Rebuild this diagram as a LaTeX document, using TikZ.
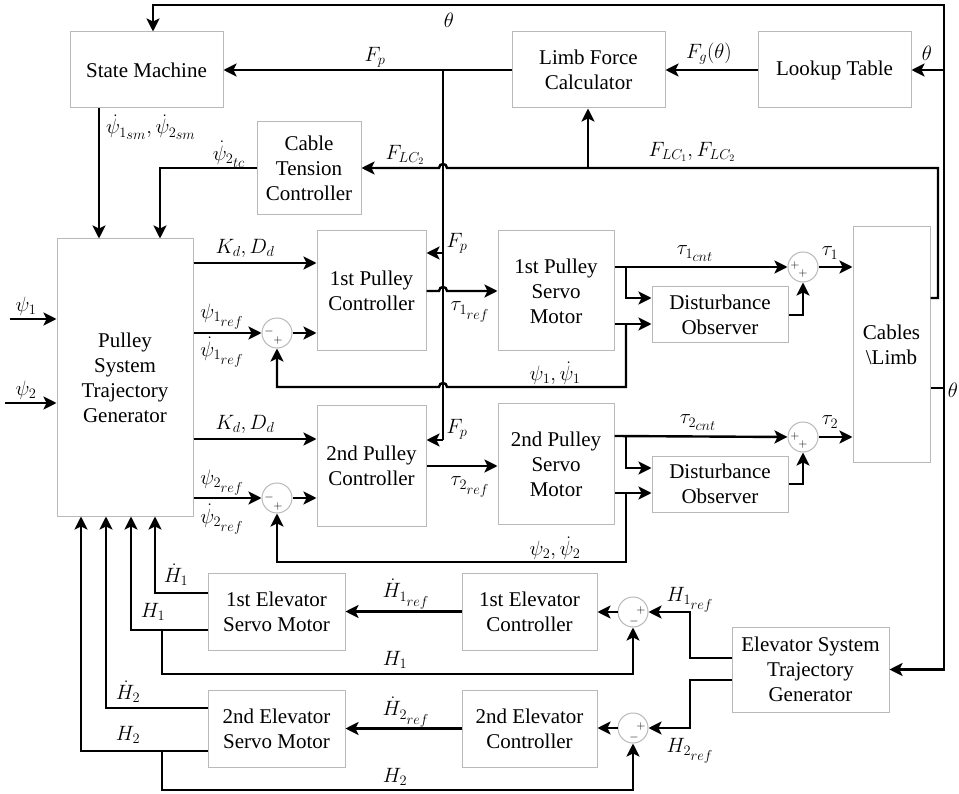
\documentclass[tikz,border=0pt]{standalone}
\usepackage{fontspec}
\setmainfont{Liberation Serif}
\usetikzlibrary{arrows.meta,calc}
\begin{document}
\begin{tikzpicture}[x=1pt,y=-1pt,
  blk/.style={draw=gray!55, line width=1pt, fill=white, align=center, inner sep=0pt, font=\fontsize{21}{25}\selectfont},
  sumc/.style={circle, draw=gray!55, line width=1pt, minimum size=30pt, inner sep=0pt},
  conn/.style={line width=2.4pt},
  arr/.style={conn, -{Stealth[length=13pt,width=13pt,inset=3pt]}},
  lbl/.style={font=\fontsize{20}{24}\selectfont, inner sep=0pt},
  sgn/.style={font=\fontsize{13}{13}\selectfont, inner sep=0pt}]
\useasboundingbox (0,0) rectangle (959,794);

% ---------- blocks ----------
\node[blk, minimum width=153pt, minimum height=76pt] (sm) at (146.5,70) {State Machine};
\node[blk, minimum width=153pt, minimum height=76pt] (lfc) at (588.5,70) {Limb Force\\Calculator};
\node[blk, minimum width=153pt, minimum height=76pt] (lut) at (834.5,70) {Lookup Table};
\node[blk, minimum width=104pt, minimum height=93pt] (ctc) at (309,168) {Cable\\Tension\\Controller};
\node[blk, minimum width=136pt, minimum height=277pt] (pstg) at (125,377.5) {Pulley\\System\\Trajectory\\Generator};
\node[blk, minimum width=109pt, minimum height=120pt] (pc1) at (371.5,291) {1st Pulley\\Controller};
\node[blk, minimum width=116pt, minimum height=120pt] (psm1) at (556,291) {1st Pulley\\Servo\\Motor};
\node[blk, minimum width=136pt, minimum height=56pt] (do1) at (720,315) {Disturbance\\Observer};
\node[blk, minimum width=109pt, minimum height=121pt] (pc2) at (371.5,466) {2nd Pulley\\Controller};
\node[blk, minimum width=116pt, minimum height=121pt] (psm2) at (556,464) {2nd Pulley\\Servo\\Motor};
\node[blk, minimum width=136pt, minimum height=56pt] (do2) at (720,484) {Disturbance\\Observer};
\node[blk, minimum width=77pt, minimum height=235pt] (cbl) at (891.5,344.5) {Cables\\\textbackslash Limb};
\node[blk, minimum width=137pt, minimum height=77pt] (esm1) at (276.5,611.5) {1st Elevator\\Servo Motor};
\node[blk, minimum width=135pt, minimum height=77pt] (ec1) at (529.5,611.5) {1st Elevator\\Controller};
\node[blk, minimum width=137pt, minimum height=77pt] (esm2) at (276.5,728.5) {2nd Elevator\\Servo Motor};
\node[blk, minimum width=135pt, minimum height=77pt] (ec2) at (529.5,728.5) {2nd Elevator\\Controller};
\node[blk, minimum width=157pt, minimum height=85pt] (estg) at (810.5,669.5) {Elevator System\\Trajectory\\Generator};

% ---------- summing junctions ----------
\node[sumc] (s1) at (277,333) {};
\node[sumc] (s2) at (277,498) {};
\node[sumc] (t1) at (803,267) {};
\node[sumc] (t2) at (803,437) {};
\node[sumc] (e1) at (633,612) {};
\node[sumc] (e2) at (633,728) {};
\foreach \s in {s1,s2}{
  \node[sgn] at ($(\s)+(-8,-1)$) {$-$};
  \node[sgn] at ($(\s)+(1,8)$) {$+$};}
\foreach \s in {t1,t2}{
  \node[sgn] at ($(\s)+(-8,-1)$) {$+$};
  \node[sgn] at ($(\s)+(0,7)$) {$+$};}
\foreach \s in {e1,e2}{
  \node[sgn] at ($(\s)+(8,-2)$) {$+$};
  \node[sgn] at ($(\s)+(1,9)$) {$-$};}

% ---------- helper coordinates ----------
\coordinate (thj) at (944,388);
\coordinate (rtop) at (944,5);
\coordinate (fpj) at (443,70);
\coordinate (fp1) at (443,253);
\coordinate (fp2) at (443,440);
\coordinate (lcr) at (938,168);
\coordinate (lcb) at (588,168);
\coordinate (br1) at (626,267);
\coordinate (fb1) at (626,324);
\coordinate (br2) at (626,436);
\coordinate (fb2) at (626,493);
\coordinate (in1) at (10,319);
\coordinate (in2) at (5,403);
\coordinate (h1b) at (162,630);
\coordinate (h2b) at (162,751);

% ---------- theta feedback ----------
\draw[conn] (cbl.east |- thj) -- (thj);
\draw[arr] (thj) |- (rtop) -| ([xshift=6.5pt]sm.north);
\draw[arr] (thj) |- (lut.east);
\draw[arr] (thj) |- (estg.east);

% ---------- top row ----------
\draw[arr] (lut.west) -- (lfc.east);
\draw[arr] (lfc.west) -- (sm.east);
\draw[conn] (fpj) -- (fp2);
\draw[arr] (fp1) -- (fp1 -| pc1.east);
\draw[arr] (fp2) -- (fp2 -| pc2.east);
\draw[arr] (cbl.east |- 0,298) -- (938,298) -- (lcr) -- (447,168) .. controls (447,162.7) and (439,162.7) .. (439,168) -- (ctc.east);
\draw[arr] (lcb) -- (lfc.south -| lcb);
\draw[arr] (ctc.west) -| ([xshift=35pt]pstg.north);
\draw[arr] ([xshift=-47.5pt]sm.south) -- ([xshift=-26pt]pstg.north);

% ---------- pulley inputs ----------
\draw[arr] (in1) -- (in1 -| pstg.west);
\draw[arr] (in2) -- (in2 -| pstg.west);

% ---------- pulley loop 1 ----------
\draw[arr] (pstg.east |- 0,263) -- (pc1.west |- 0,263);
\draw[arr] (pstg.east |- s1) -- (s1.west);
\draw[arr] (s1.east) -- (s1 -| pc1.west);
\draw[arr] (pc1.east) -- (439,291) .. controls (439,285.7) and (447,285.7) .. (447,291) -- (psm1.west);
\draw[arr] (psm1.east |- br1) -- (t1.west);
\draw[arr] (br1) |- (do1.west |- 0,298);
\draw[arr] (psm1.east |- fb1) -- (do1.west |- fb1);
\draw[arr] (fb1) -- (626,387) -- (447,387) .. controls (447,381.7) and (439,381.7) .. (439,387) -- (277,387) -- (s1.south);
\draw[arr] (do1.east) -| (t1.south);
\draw[arr] (t1.east) -- (t1 -| cbl.west);

% ---------- pulley loop 2 ----------
\draw[arr] (pstg.east |- 0,439) -- (pc2.west |- 0,439);
\draw[arr] (pstg.east |- s2) -- (s2.west);
\draw[arr] (s2.east) -- (s2 -| pc2.west);
\draw[arr] (pc2.east) -- (pc2.east -| psm2.west);
\draw[arr] (psm2.east |- br2) -- (t2.west);
\draw[arr] (br2) |- (do2.west |- 0,468);
\draw[arr] (psm2.east |- fb2) -- (do2.west |- fb2);
\draw[arr] (fb2) -- (626,562) -| (s2.south);
\draw[arr] (do2.east) -| (t2.south);
\draw[arr] (t2.east) -- (t2 -| cbl.west);

% ---------- elevator loop 1 ----------
\draw[arr] (estg.west |- 0,658) -- (690,658) |- (e1.east);
\draw[arr] (e1.west) -- (ec1.east |- e1);
\draw[arr] (ec1.west) -- (esm1.east);
\draw[arr] (esm1.west |- 0,593) -| ([xshift=30pt]pstg.south);
\draw[arr] (esm1.west |- h1b) -| ([xshift=6pt]pstg.south);
\draw[arr] (h1b) -- (162,674) -| (e1.south);

% ---------- elevator loop 2 ----------
\draw[arr] (estg.west |- 0,680) -- (690,680) |- (e2.east);
\draw[arr] (e2.west) -- (ec2.east |- e2);
\draw[arr] (ec2.west) -- (esm2.east);
\draw[arr] (esm2.west |- 0,708) -| ([xshift=-19pt]pstg.south);
\draw[arr] (esm2.west |- h2b) -| ([xshift=-44pt]pstg.south);
\draw[arr] (h2b) -- (162,790) -| (e2.south);

% ---------- labels ----------
\node[lbl] at (449,20) {$\theta$};
\node[lbl] at (927,53) {$\theta$};
\node[lbl] at (953,390) {$\theta$};
\node[lbl] at (709,54) {$F_g(\theta)$};
\node[lbl] at (375,57) {$F_p$};
\node[lbl] at (692,152) {$F_{LC_1},F_{LC_2}$};
\node[lbl] at (405,155) {$F_{LC_2}$};
\node[lbl] at (151,127) {$\dot\psi_{1_{\scriptstyle sm}},\dot\psi_{2_{\scriptstyle sm}}$};
\node[lbl] at (229,154) {$\dot\psi_{2_{\scriptstyle tc}}$};
\node[lbl] at (457,243) {$F_p$};
\node[lbl] at (457,429) {$F_p$};
\node[lbl] at (26,306) {$\psi_1$};
\node[lbl] at (26,390) {$\psi_2$};
\node[lbl] at (245,248) {$K_d,D_d$};
\node[lbl] at (245,424) {$K_d,D_d$};
\node[lbl] at (222,317) {$\psi_{1_{\scriptstyle ref}}$};
\node[lbl] at (222,352) {$\dot\psi_{1_{\scriptstyle ref}}$};
\node[lbl] at (222,483) {$\psi_{2_{\scriptstyle ref}}$};
\node[lbl] at (222,519) {$\dot\psi_{2_{\scriptstyle ref}}$};
\node[lbl] at (470,312) {$\tau_{1_{\scriptstyle ref}}$};
\node[lbl] at (470,487) {$\tau_{2_{\scriptstyle ref}}$};
\node[lbl] at (695,254) {$\tau_{1_{\scriptstyle cnt}}$};
\node[lbl] at (698,423) {$\tau_{2_{\scriptstyle cnt}}$};
\node[lbl] at (830,253) {$\tau_1$};
\node[lbl] at (830,422) {$\tau_2$};
\node[lbl] at (555,373) {$\psi_1,\dot\psi_1$};
\node[lbl] at (555,548) {$\psi_2,\dot\psi_2$};
\node[lbl] at (690,600) {$H_{1_{\scriptstyle ref}}$};
\node[lbl] at (690,751) {$H_{2_{\scriptstyle ref}}$};
\node[lbl] at (406,594) {$\dot H_{1_{\scriptstyle ref}}$};
\node[lbl] at (406,712) {$\dot H_{2_{\scriptstyle ref}}$};
\node[lbl] at (176,575) {$\dot H_1$};
\node[lbl] at (153,612) {$H_1$};
\node[lbl] at (395,660) {$H_1$};
\node[lbl] at (128,692) {$\dot H_2$};
\node[lbl] at (128,735) {$H_2$};
\node[lbl] at (395,777) {$H_2$};
\end{tikzpicture}
\end{document}
